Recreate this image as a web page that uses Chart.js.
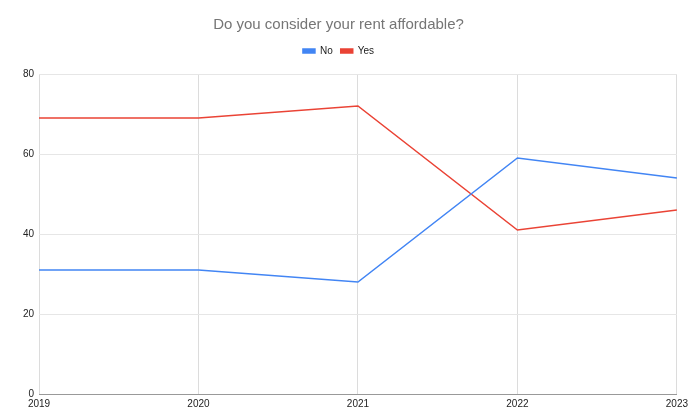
<!DOCTYPE html>
<html>
<head>
<meta charset="utf-8">
<script src="https://cdn.jsdelivr.net/npm/chart.js@4"></script>
<style>
  html, body { margin: 0; padding: 0; background: #fff; }
  #wrap { width: 692px; height: 419px; position: relative; }
</style>
</head>
<body>
<div id="wrap"><canvas id="rentChart"></canvas></div>
<script>
// data
const years = ['2019', '2020', '2021', '2022', '2023'];
const noValues = [31, 31, 28, 59, 54];
const yesValues = [69, 69, 72, 41, 46];

const COLORS = {
  no: '#4285F4',
  yes: '#EA4335',
};

// push plot area down a bit below the legend
const legendGap = {
  id: 'legendGap',
  beforeInit(chart) {
    const fit = chart.legend.fit;
    chart.legend.fit = function () {
      fit.call(this);
      this.height += 8;
    };
  },
};

new Chart(document.getElementById('rentChart'), {
  type: 'line',
  data: {
    labels: years,
    datasets: [
      {
        label: 'No',
        data: noValues,
        borderColor: COLORS.no,
        backgroundColor: COLORS.no,
        borderWidth: 1.5,
        pointRadius: 0,
        tension: 0,
      },
      {
        label: 'Yes',
        data: yesValues,
        borderColor: COLORS.yes,
        backgroundColor: COLORS.yes,
        borderWidth: 1.5,
        pointRadius: 0,
        tension: 0,
      },
    ],
  },
  options: {
    responsive: true,
    maintainAspectRatio: false,
    animation: false,
    layout: { padding: { left: 0, right: 15, top: 0, bottom: 0 } },
    plugins: {
      title: {
        display: true,
        text: 'Do you consider your rent affordable?',
        color: '#757575',
        font: { family: 'Liberation Sans', size: 15, weight: 'normal' },
        padding: { top: 16, bottom: 4 },
      },
      legend: {
        position: 'top',
        labels: {
          color: '#222',
          font: { family: 'Liberation Sans', size: 10 },
          boxWidth: 12,
          boxHeight: 4,
          padding: 8,
        },
      },
      tooltip: { enabled: false },
    },
    scales: {
      x: {
        offset: false,
        grid: { color: '#dcdcdc', drawTicks: false },
        border: { color: '#999', width: 1 },
        ticks: {
          color: '#222',
          font: { family: 'Liberation Sans', size: 10 },
          padding: 4,
          maxRotation: 0,
        },
        afterFit: (s) => { s.height = 25; },
      },
      y: {
        min: 0,
        max: 80,
        grid: { color: '#e6e6e6', drawTicks: false },
        border: { display: false },
        ticks: {
          stepSize: 20,
          color: '#222',
          font: { family: 'Liberation Sans', size: 10 },
          padding: 5,
        },
        afterFit: (s) => { s.width = 39; },
      },
    },
  },
  plugins: [legendGap],
});
</script>
</body>
</html>
